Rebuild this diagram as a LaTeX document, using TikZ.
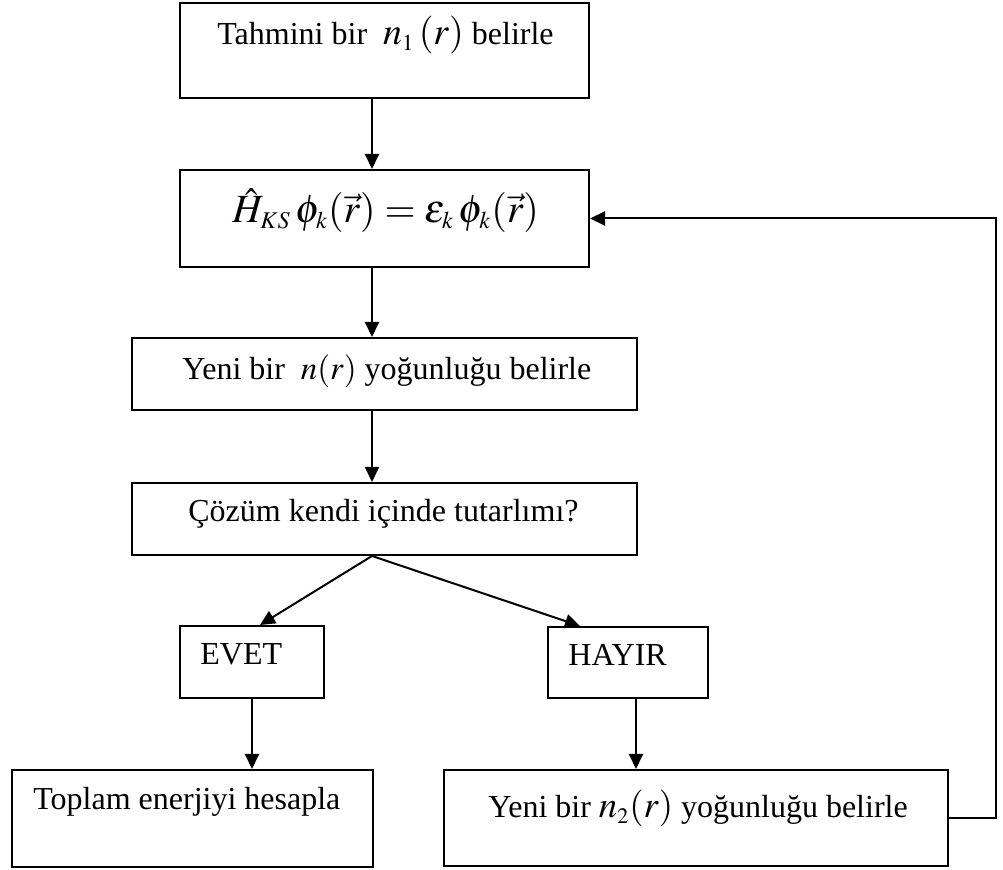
\documentclass[tikz,border=0pt]{standalone}
\usepackage{mathptmx}
\usepackage{fontspec}
\setmainfont{Liberation Serif}
\usetikzlibrary{arrows.meta}
\tikzset{
  flowbox/.style={draw, line width=1pt, inner sep=0pt},
  lbl/.style={anchor=base west, inner sep=0pt, font=\fontsize{16}{19}\selectfont},
  arr/.style={line width=1pt, -{Triangle[length=7.5pt,width=7pt]}},
  conn/.style={line width=1pt}
}
\newcommand{\bigmath}[2]{{\fontsize{#1}{#1}\selectfont$#2$}}
\newcommand{\ssub}[1]{_{\scriptscriptstyle #1}}
\begin{document}
\begin{tikzpicture}[x=0.5pt, y=-0.5pt]
\useasboundingbox (0,0) rectangle (1003,870);
% boxes
\node[flowbox, minimum width=204.5pt, minimum height=47.5pt] (b1) at (384.5,50.5) {};
\node[flowbox, minimum width=204.5pt, minimum height=48.5pt] (b2) at (384.5,218.5) {};
\node[flowbox, minimum width=252.5pt, minimum height=36pt] (b3) at (384.5,374) {};
\node[flowbox, minimum width=252.5pt, minimum height=36pt] (b4) at (384.5,519) {};
\node[flowbox, minimum width=72pt, minimum height=36pt] (ev) at (252,662) {};
\node[flowbox, minimum width=80pt, minimum height=35.5pt] (ha) at (628,662.5) {};
\node[flowbox, minimum width=180.5pt, minimum height=48.5pt] (tp) at (192.5,818.5) {};
\node[flowbox, minimum width=252pt, minimum height=48pt] (n2) at (696,818) {};
% texts
\node[lbl] (t1) at (217,45) {Tahmini bir\ \ \bigmath{19}{n\ssub{1}\,(r)}\ belirle};
\node[lbl] (t2) at (232,223) {\bigmath{20}{\hat{H}\ssub{KS}\,\phi\ssub{k}(\vec{r}) = \epsilon\ssub{k}\,\phi\ssub{k}(\vec{r})}};
\node[lbl] (t3) at (182,380) {Yeni bir \ \bigmath{16.5}{n(r)} yoğunluğu belirle};
\node[lbl] (t4) at (188,522) {Çözüm kendi içinde tutarlımı?};
\node[lbl] (t5) at (200,665) {EVET};
\node[lbl] (t6) at (568,666) {HAYIR};
\node[lbl] (t7) at (33,810) {Toplam enerjiyi hesapla};
\node[lbl] (t8) at (488,818) {Yeni bir \bigmath{18.4}{n\ssub{2}(r)} yoğunluğu belirle};
% helper coordinates
\coordinate (ax) at (372,0);
\coordinate (ex) at (260,0);
\coordinate (hx) at (580,0);
\coordinate (hd) at (636,0);
\coordinate (fb) at (996,0);
% connectors
\draw[arr] (b1.south -| ax) -- (b2.north -| ax);
\draw[arr] (b2.south -| ax) -- (b3.north -| ax);
\draw[arr] (b3.south -| ax) -- (b4.north -| ax);
\draw[arr] (b4.south -| ax) -- (ev.north -| ex);
\draw[arr] (b4.south -| ax) -- (ha.north -| hx);
\draw[arr] (ev.south) -- (tp.north -| ev.south);
\draw[arr] (ha.south -| hd) -- (n2.north -| hd);
\draw[arr] (n2.east) -- (n2.east -| fb) -- (b2.east -| fb) -- (b2.east);
\end{tikzpicture}
\end{document}
